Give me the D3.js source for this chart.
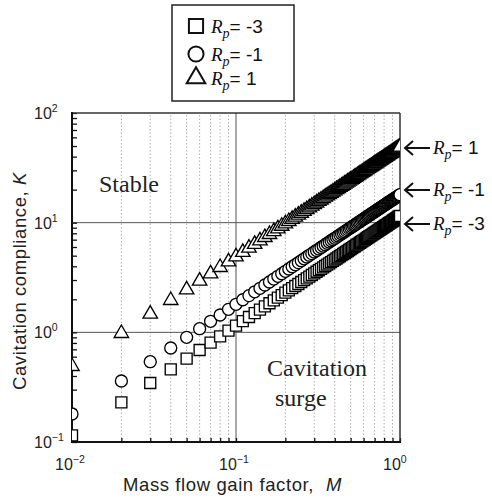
<!DOCTYPE html>
<html><head><meta charset="utf-8">
<script src="https://cdn.jsdelivr.net/npm/d3@7"></script>
<style>body{margin:0;background:#fff}svg{display:block}</style>
</head><body>
<svg id="c" width="492" height="500"></svg>
<script>
const M = [0.01,0.02,0.03,0.04,0.05,0.06,0.07,0.08,0.09,0.10,0.11,0.12,0.13,0.14,0.15,0.16,0.17,0.18,0.19,0.20,0.21,0.22,0.23,0.24,0.25,0.26,0.27,0.28,0.29,0.30,0.31,0.32,0.33,0.34,0.35,0.36,0.37,0.38,0.39,0.40,0.41,0.42,0.43,0.44,0.45,0.46,0.47,0.48,0.49,0.50,0.51,0.52,0.53,0.54,0.55,0.56,0.57,0.58,0.59,0.60,0.61,0.62,0.63,0.64,0.65,0.66,0.67,0.68,0.69,0.70,0.71,0.72,0.73,0.74,0.75,0.76,0.77,0.78,0.79,0.80,0.81,0.82,0.83,0.84,0.85,0.86,0.87,0.88,0.89,0.90,0.91,0.92,0.93,0.94,0.95,0.96,0.97,0.98,0.99,1.00];
const K_Rp_m3 = [0.115,0.23,0.345,0.46,0.575,0.69,0.805,0.92,1.035,1.15,1.265,1.38,1.495,1.61,1.725,1.84,1.955,2.07,2.185,2.3,2.415,2.53,2.645,2.76,2.875,2.99,3.105,3.22,3.335,3.45,3.565,3.68,3.795,3.91,4.025,4.14,4.255,4.37,4.485,4.6,4.715,4.83,4.945,5.06,5.175,5.29,5.405,5.52,5.635,5.75,5.865,5.98,6.095,6.21,6.325,6.44,6.555,6.67,6.785,6.9,7.015,7.13,7.245,7.36,7.475,7.59,7.705,7.82,7.935,8.05,8.165,8.28,8.395,8.51,8.625,8.74,8.855,8.97,9.085,9.2,9.315,9.43,9.545,9.66,9.775,9.89,10.005,10.12,10.235,10.35,10.465,10.58,10.695,10.81,10.925,11.04,11.155,11.27,11.385,11.5];
const K_Rp_m1 = [0.18,0.36,0.54,0.72,0.9,1.08,1.26,1.44,1.62,1.8,1.98,2.16,2.34,2.52,2.7,2.88,3.06,3.24,3.42,3.6,3.78,3.96,4.14,4.32,4.5,4.68,4.86,5.04,5.22,5.4,5.58,5.76,5.94,6.12,6.3,6.48,6.66,6.84,7.02,7.2,7.38,7.56,7.74,7.92,8.1,8.28,8.46,8.64,8.82,9,9.18,9.36,9.54,9.72,9.9,10.08,10.26,10.44,10.62,10.8,10.98,11.16,11.34,11.52,11.7,11.88,12.06,12.24,12.42,12.6,12.78,12.96,13.14,13.32,13.5,13.68,13.86,14.04,14.22,14.4,14.58,14.76,14.94,15.12,15.3,15.48,15.66,15.84,16.02,16.2,16.38,16.56,16.74,16.92,17.1,17.28,17.46,17.64,17.82,18];
const K_Rp_p1 = [0.5,1,1.5,2,2.5,3,3.5,4,4.5,5,5.5,6,6.5,7,7.5,8,8.5,9,9.5,10,10.5,11,11.5,12,12.5,13,13.5,14,14.5,15,15.5,16,16.5,17,17.5,18,18.5,19,19.5,20,20.5,21,21.5,22,22.5,23,23.5,24,24.5,25,25.5,26,26.5,27,27.5,28,28.5,29,29.5,30,30.5,31,31.5,32,32.5,33,33.5,34,34.5,35,35.5,36,36.5,37,37.5,38,38.5,39,39.5,40,40.5,41,41.5,42,42.5,43,43.5,44,44.5,45,45.5,46,46.5,47,47.5,48,48.5,49,49.5,50];
const seriesNames = ["-3","-1","1"];
const xTickExp = [-2,-1,0];
const yTickExp = [-1,0,1,2];

const svg = d3.select("#c");
const L=72, R=400, T=113, B=442;
const x = d3.scaleLog().domain([0.01,1]).range([L,R]);
const y = d3.scaleLog().domain([0.1,100]).range([B,T]);

const xMinor=[], yMinor=[];
[0.01,0.1].forEach(d=>{for(let k=1;k<10;k++) xMinor.push(+(d*k).toPrecision(3));}); xMinor.push(1);
[0.1,1,10].forEach(d=>{for(let k=1;k<10;k++) yMinor.push(+(d*k).toPrecision(3));}); yMinor.push(100);

svg.append("g").selectAll("line").data(xMinor.filter(v=>v>0.01&&v<1&&Math.abs(v-0.1)>1e-9)).join("line")
  .attr("x1",d=>x(d)).attr("x2",d=>x(d)).attr("y1",B).attr("y2",T)
  .attr("stroke","#9a9a9a").attr("stroke-width",0.8).attr("stroke-dasharray","1.5,2");
svg.append("line").attr("x1",x(0.1)).attr("x2",x(0.1)).attr("y1",B).attr("y2",T).attr("stroke","#555").attr("stroke-width",1);
[1,10].forEach(v=>svg.append("line").attr("x1",L).attr("x2",R).attr("y1",y(v)).attr("y2",y(v)).attr("stroke","#555").attr("stroke-width",1));

const gx = svg.append("g").attr("transform",`translate(0,${B})`)
  .call(d3.axisBottom(x).tickValues(xMinor).tickSizeInner(-4).tickSizeOuter(0).tickFormat(""));
const gy = svg.append("g").attr("transform",`translate(${L},0)`)
  .call(d3.axisLeft(y).tickValues(yMinor).tickSizeInner(-5).tickSizeOuter(0).tickFormat(""));
[gx,gy].forEach(g=>{g.select(".domain").remove(); g.selectAll("line").attr("stroke","#111").attr("stroke-width",1.3);});

svg.append("line").attr("x1",L).attr("x2",R).attr("y1",T).attr("y2",T).attr("stroke","#333").attr("stroke-width",1.5);
svg.append("line").attr("x1",R).attr("x2",R).attr("y1",T).attr("y2",B).attr("stroke","#333").attr("stroke-width",1.5);
svg.append("line").attr("x1",L).attr("x2",R+1).attr("y1",B).attr("y2",B).attr("stroke","#111").attr("stroke-width",2);
svg.append("line").attr("x1",L).attr("x2",L).attr("y1",T-1).attr("y2",B+1).attr("stroke","#111").attr("stroke-width",2);

svg.append("clipPath").attr("id","clip").append("rect").attr("x",L).attr("y",T).attr("width",R-L).attr("height",B-T);
const types=[d3.symbolSquare,d3.symbolCircle,d3.symbolTriangle];
const sizes=[121,113,90];
const data=[K_Rp_m3,K_Rp_m1,K_Rp_p1];
const gm = svg.append("g").attr("clip-path","url(#clip)");
data.forEach((arr,i)=>{
  gm.append("g").selectAll("path").data(M.map((m,j)=>[m,arr[j]])).join("path")
    .attr("d",d3.symbol().type(types[i]).size(sizes[i]))
    .attr("transform",d=>`translate(${x(d[0])},${y(d[1]) + (i===2?1:0)})`)
    .attr("fill","#fff").attr("stroke","#000").attr("stroke-width",1.35);
});

const sans="Liberation Sans, Arial, sans-serif";
xTickExp.forEach(e=>{
  const t=svg.append("text").attr("x",x(Math.pow(10,e))-17).attr("y",470)
    .attr("font-family",sans).attr("font-size",16).attr("fill","#222");
  t.append("tspan").text("10");
  t.append("tspan").attr("dy",-7).attr("font-size",10.5).text(e<0?"\u2212"+(-e):e);
});
yTickExp.forEach(e=>{
  const t=svg.append("text").attr("x",L-38).attr("y",y(Math.pow(10,e))+6)
    .attr("font-family",sans).attr("font-size",16).attr("fill","#222");
  t.append("tspan").text("10");
  t.append("tspan").attr("dy",-7).attr("font-size",10.5).text(e<0?"\u2212"+(-e):e);
});

const xt=svg.append("text").attr("x",123).attr("y",491).attr("font-family",sans).attr("font-size",18.5).attr("letter-spacing",0.6).attr("fill","#222");
xt.append("tspan").text("Mass flow gain factor,");
xt.append("tspan").attr("dx",12).attr("font-style","italic").text("M");
const yt=svg.append("text").attr("transform","translate(26,281) rotate(-90)").attr("text-anchor","middle")
  .attr("font-family",sans).attr("font-size",18.5).attr("letter-spacing",0.6).attr("fill","#222");
yt.append("tspan").text("Cavitation compliance, ");
yt.append("tspan").attr("font-style","italic").text("K");

const serif="Liberation Serif, Times New Roman, serif";
svg.append("text").attr("x",99).attr("y",192).attr("font-family",serif).attr("font-size",24).attr("fill","#222").text("Stable");
svg.append("text").attr("x",267).attr("y",376).attr("font-family",serif).attr("font-size",24).attr("fill","#222").text("Cavitation");
svg.append("text").attr("x",275).attr("y",406).attr("font-family",serif).attr("font-size",24).attr("fill","#222").text("surge");

function rpLabel(g,xx,yy,val){
  const t=g.append("text").attr("x",xx).attr("y",yy).attr("font-size",19).attr("fill","#111");
  t.append("tspan").attr("font-family",serif).attr("font-style","italic").text("R");
  t.append("tspan").attr("font-family",serif).attr("font-style","italic").attr("font-size",14).attr("dy",5).text("p");
  t.append("tspan").attr("font-family",sans).attr("dy",-5).text("= "+val);
}

svg.append("rect").attr("x",172).attr("y",5).attr("width",122).attr("height",96).attr("fill","#fff").attr("stroke","#222").attr("stroke-width",1.5);
const legY=[26,54,78];
const legSizes=[200,180,150];
seriesNames.forEach((s,i)=>{
  svg.append("path").attr("d",d3.symbol().type(types[i]).size(legSizes[i]))
    .attr("transform",`translate(196,${legY[i]})`).attr("fill","#fff").attr("stroke","#111").attr("stroke-width",2);
  rpLabel(svg,211,legY[i]+7,s);
});

const annY=[148,190,224];
const annNames=["1","-1","-3"];
annNames.forEach((s,i)=>{
  const yy=annY[i];
  svg.append("line").attr("x1",405).attr("x2",430).attr("y1",yy).attr("y2",yy).attr("stroke","#111").attr("stroke-width",2);
  svg.append("path").attr("d",`M${413},${yy-7}L${405},${yy}L${413},${yy+7}`).attr("fill","none").attr("stroke","#111").attr("stroke-width",2);
  rpLabel(svg,433,yy+6,s);
});
</script>
</body></html>
